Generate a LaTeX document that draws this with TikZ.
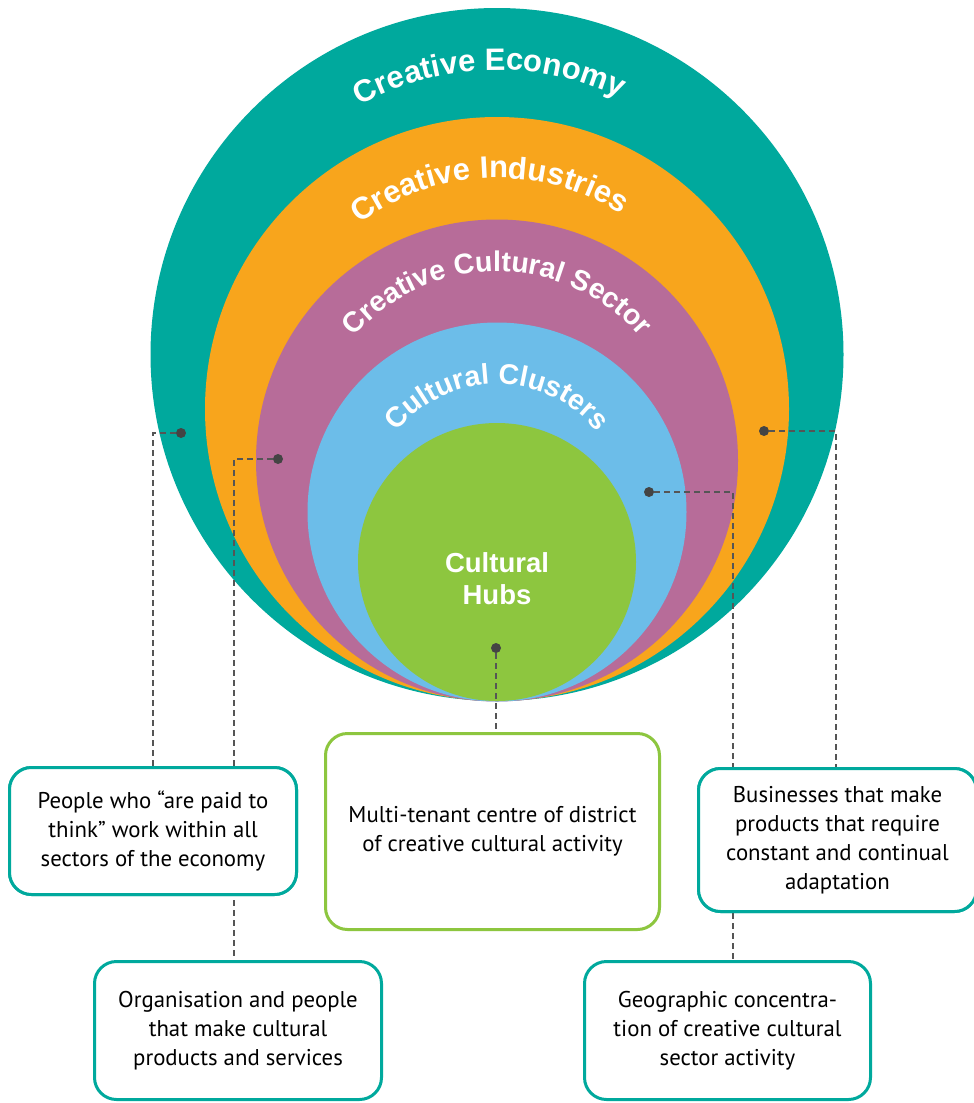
\documentclass[tikz,border=0pt]{standalone}
\usepackage{fontspec}
\setmainfont{Liberation Sans}
\newfontfamily\ringfamily{Liberation Sans}
\newfontfamily\boxfamily{PT Sans}
\usetikzlibrary{decorations.text}
\definecolor{cteal}{HTML}{00A99D}
\definecolor{corange}{HTML}{F8A51C}
\definecolor{cpurple}{HTML}{B76C99}
\definecolor{cblue}{HTML}{6CBDE9}
\definecolor{cgreen}{HTML}{8DC63F}
\definecolor{cdot}{HTML}{444444}
\definecolor{cline}{HTML}{555555}
\newcommand\ringfontA{\ringfamily\bfseries\fontsize{31}{32}\selectfont}
\newcommand\ringfontB{\ringfamily\bfseries\fontsize{28.5}{30}\selectfont}
\newcommand\hubfont{\ringfamily\bfseries\fontsize{27.5}{32}\selectfont}
\newcommand\boxfont{\boxfamily\fontsize{22.8}{29}\selectfont}
\begin{document}
\begin{tikzpicture}[x=1pt,y=1pt,
  ringtext/.style 2 args={decorate, decoration={text along path, text align=center, text color=white, text={|#1|#2}}},
  dotnode/.style={circle, fill=cdot, inner sep=0pt, minimum size=10pt},
  leader/.style={draw=cline, line width=1.3pt, dash pattern=on 6pt off 4pt},
  infobox/.style={draw=cteal, line width=3pt, rounded corners=22pt, fill=white, align=center, font=\boxfont, inner sep=0pt, text=black}
]
\useasboundingbox (0,0) rectangle (974,-1103);
\fill[white] (0,0) rectangle (974,-1103);

% rings
\coordinate (cE) at (497,-354.5);
\coordinate (cI) at (497,-409);
\coordinate (cS) at (497,-460.5);
\coordinate (cC) at (497,-512);
\coordinate (cH) at (497,-562);
\fill[cteal] (cE) circle[radius=346.5pt];
\fill[corange] (cI) circle[radius=292pt];
\fill[cpurple] (cS) circle[radius=241pt];
\fill[cblue] (cC) circle[radius=189.5pt];
\fill[cgreen] (cH) circle[radius=139pt];

% ring labels
\path[ringtext={\ringfontA}{Creative Economy}] ([shift={(161.6:284.5pt)}]cE) arc[start angle=161.6, end angle=21.6, radius=284.5pt];
\path[ringtext={\ringfontA}{Creative Industries}] ([shift={(172:231pt)}]cI) arc[start angle=172, end angle=12, radius=231pt];
\path[ringtext={\ringfontB}{Creative Cultural Sector}] ([shift={(170:189pt)}]cS) arc[start angle=170, end angle=10, radius=189pt];
\path[ringtext={\ringfontB}{Cultural Clusters}] ([shift={(175:128pt)}]cC) arc[start angle=175, end angle=5, radius=128pt];
\node[font=\hubfont, text=white, align=center, inner sep=0pt] (hubs) at (497,-579) {Cultural\\Hubs};

% dots
\node[dotnode] (d1) at (181,-433) {};
\node[dotnode] (d2) at (278,-459) {};
\node[dotnode] (d3) at (764,-431) {};
\node[dotnode] (d4) at (649,-492) {};
\node[dotnode] (d5) at (496,-648) {};

% bends of the leaders
\coordinate (k1) at (153,-433);
\coordinate (k2) at (234,-459);
\coordinate (k3) at (836,-431);
\coordinate (k4) at (733,-492);

% boxes placed (named) so leaders can end on them
\path (153,-831) node[infobox, minimum width=287pt, minimum height=127pt] (b1) {People who “are paid to\\think” work within all\\sectors of the economy};
\path (238,-1030.5) node[infobox, minimum width=287pt, minimum height=138pt] (b2) {Organisation and people\\that make cultural\\products and services};
\path (492.5,-831.5) node[infobox, draw=cgreen, minimum width=334pt, minimum height=196pt] (b3) {Multi-tenant centre of district\\of creative cultural activity};
\path (837.5,-840) node[infobox, minimum width=278pt, minimum height=143pt] (b4) {Businesses that make\\products that require\\constant and continual\\adaptation};
\path (727.5,-1030.5) node[infobox, minimum width=286pt, minimum height=138pt] (b5) {Geographic concentra-\\tion of creative cultural\\sector activity};

% leaders
\draw[leader] (d1) -- (k1) -- (k1 |- b1.north);
\draw[leader] (d2) -- (k2) -- (k2 |- b2.north);
\draw[leader] (d3) -- (k3) -- (k3 |- b4.north);
\draw[leader] (d4) -- (k4) -- (k4 |- b5.north);
\draw[leader] (d5) -- (d5 |- b3.north);

% boxes again on top of the leaders that pass behind them
\path (153,-831) node[infobox, minimum width=287pt, minimum height=127pt] {People who “are paid to\\think” work within all\\sectors of the economy};
\path (837.5,-840) node[infobox, minimum width=278pt, minimum height=143pt] {Businesses that make\\products that require\\constant and continual\\adaptation};
\end{tikzpicture}
\end{document}
